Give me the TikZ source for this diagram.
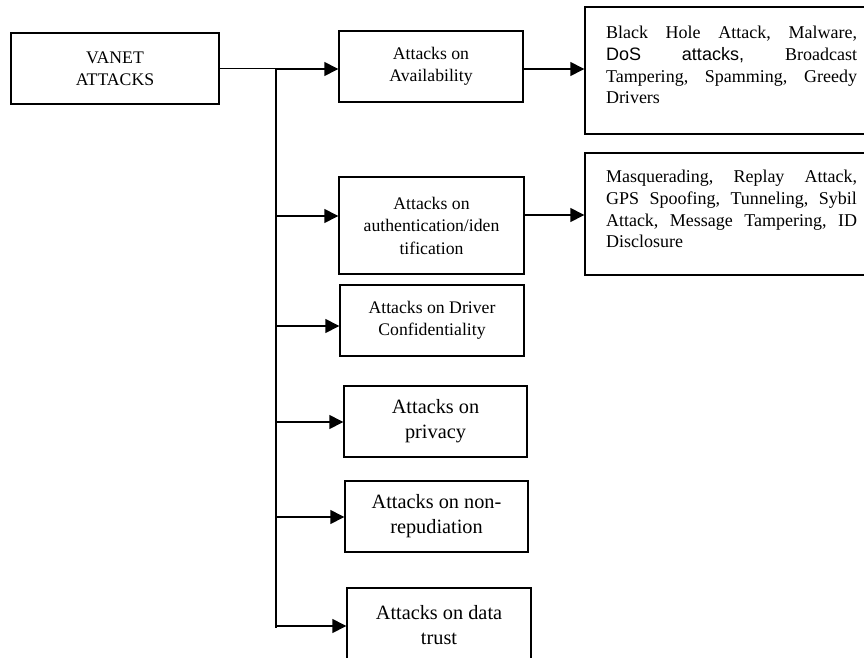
\documentclass[tikz,border=0pt]{standalone}
\usepackage{fontspec}
\setmainfont{Liberation Serif}
\newfontfamily\sansf{Liberation Sans}
\usetikzlibrary{arrows.meta}
\frenchspacing
\begin{document}
\begin{tikzpicture}[x=1pt,y=-1pt,
 box/.style={draw=black, line width=1.4pt, rectangle, inner sep=0pt, align=center, font=\fontsize{17.7}{22.5}\selectfont},
 bigbox/.style={box, font=\fontsize{20.3}{25}\selectfont},
 listbox/.style={draw=black, line width=1.4pt, rectangle, inner sep=0pt, align=left, font=\fontsize{18}{21.8}\selectfont},
 arr/.style={line width=1.4pt, -{Triangle[length=14pt,width=14pt]}},
 ln/.style={line width=1.4pt}]
\useasboundingbox (0,0) rectangle (864,658);
% boxes
\node[box, minimum width=208pt, minimum height=71pt] (vanet) at (115,68.5) {VANET\\ATTACKS};
\node[box, minimum width=184pt, minimum height=71pt] (avail) at (431,66.5) {Attacks on\\Availability};
\node[box, minimum width=185pt, minimum height=97pt] (auth) at (431.5,225.5) {Attacks on\\authentication/iden\\tification};
\node[box, minimum width=184pt, minimum height=71pt] (driver) at (432,320.5) {Attacks on Driver\\Confidentiality};
\node[bigbox, minimum width=183pt, minimum height=71pt] (priv) at (435.5,421.5) {Attacks on\\privacy};
\node[bigbox, minimum width=183pt, minimum height=71pt] (nonrep) at (436.5,516.5) {Attacks on non-\\repudiation};
\node[bigbox, minimum width=184pt, minimum height=74pt] (trust) at (439,625) {Attacks on data\\trust};
\node[listbox, minimum width=293pt, minimum height=127pt] (bh) at (731.5,70.5) {\begin{minipage}[c][127pt][t]{251pt}\vspace*{19pt}%
\makebox[251pt][s]{Black Hole Attack, Malware,}\\
\makebox[251pt][s]{{\sansf DoS} {\sansf attacks,} Broadcast}\\
\makebox[251pt][s]{Tampering, Spamming, Greedy}\\
Drivers\end{minipage}};
\node[listbox, minimum width=293pt, minimum height=122pt] (masq) at (731.5,214) {\begin{minipage}[c][122pt][t]{251pt}\vspace*{17pt}%
\makebox[251pt][s]{Masquerading, Replay Attack,}\\
\makebox[251pt][s]{GPS Spoofing, Tunneling, Sybil}\\
\makebox[251pt][s]{Attack, Message Tampering, ID}\\
Disclosure\end{minipage}};
% trunk
\coordinate (t0) at (276,69);
\coordinate (b2) at (276,216);
\coordinate (b3) at (276,326);
\coordinate (b4) at (276,422);
\coordinate (b5) at (276,517);
\coordinate (b6) at (276,626);
\coordinate (tend) at (276,628);
\draw[ln] (vanet.east) -- (vanet.east -| t0);
\draw[ln] (t0) -- (tend);
\draw[arr] (t0) -- (t0 -| avail.west);
\draw[arr] (b2) -- (b2 -| auth.west);
\draw[arr] (b3) -- (b3 -| driver.west);
\draw[arr] (b4) -- (b4 -| priv.west);
\draw[arr] (b5) -- (b5 -| nonrep.west);
\draw[arr] (b6) -- (b6 -| trust.west);
\draw[arr] (avail.east |- t0) -- (t0 -| bh.west);
\coordinate (a2) at (524,215);
\draw[arr] (a2 -| auth.east) -- (a2 -| masq.west);
\end{tikzpicture}
\end{document}
